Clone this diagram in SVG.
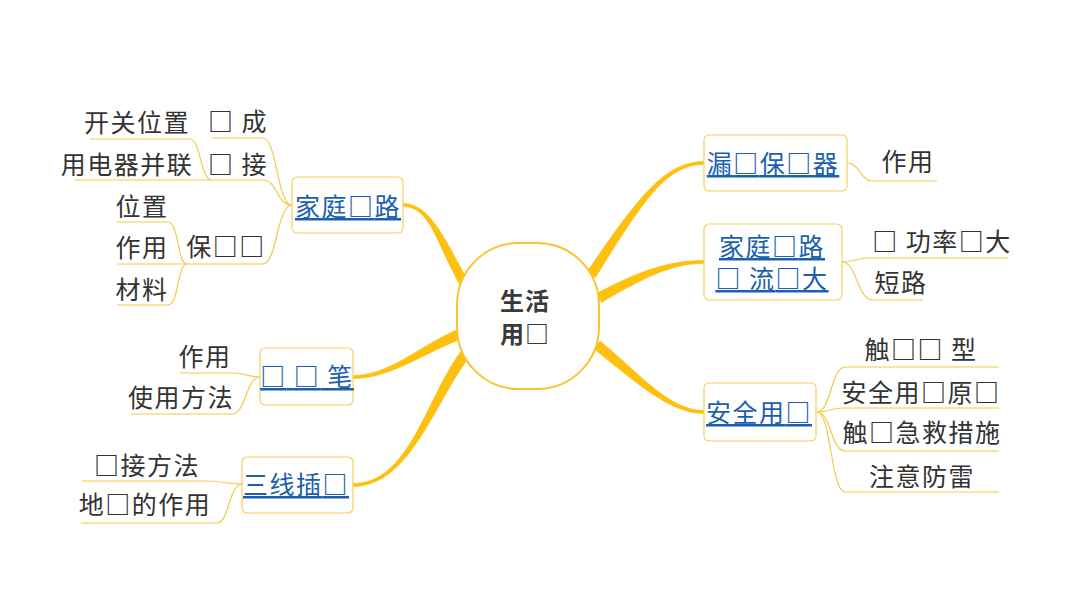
<svg xmlns="http://www.w3.org/2000/svg" width="1066" height="600" viewBox="0 0 1066 600">
<style>
.t{font-family:"Noto Sans CJK SC","Noto Sans",sans-serif;font-size:25px;letter-spacing:1.5px;fill:#333333;text-anchor:middle}
.b{fill:#1b5fae;text-decoration:underline}
.c{font-weight:bold;font-size:24px;fill:#3a3a3a;letter-spacing:1px}
.q{font-weight:bold}
.box{fill:#ffffff;stroke:#f7cf5c;stroke-width:1.2}
.main{fill:#fdc00f;stroke:#fdc00f;stroke-width:0.6}
.leaf{fill:none;stroke:#f3c94a;stroke-width:1.2}
</style>
<rect width="1066" height="600" fill="#ffffff"/>
<g id="connectors">
<path class="main" d="M403,203.5 C430,203.5 444,238 468,280.8 L460,285.2 C436,242 430,206.5 403,206.5 Z"/>
<path class="main" d="M353,375.5 C390,375.5 418,346 460.1,328.4 L463.9,337.7 C422,354 390,378.5 353,378.5 Z"/>
<path class="main" d="M353,483.5 C410,483.5 426,397 462,350 L470,356 C434,403 410,486.5 353,486.5 Z"/>
<path class="main" d="M704,161.5 C665,161.5 638,197 586.8,272.3 L595.2,277.8 C642,203 665,164.5 704,164.5 Z"/>
<path class="main" d="M704,260.5 C670,260.5 638,271 596.5,293.6 L601.5,302.4 C642,279 670,263.5 704,263.5 Z"/>
<path class="main" d="M704,410.5 C670,410.5 643,377 600.2,341.1 L593.9,348.9 C637,383 670,413.5 704,413.5 Z"/>
<path class="leaf" d="M292,205 C277,205 277,138 263,138 L212,138"/>
<path class="leaf" d="M292,205 C277,205 277,180 263,180 L212,180"/>
<path class="leaf" d="M292,205 C277,205 277,264 263,264 L187,264"/>
<path class="leaf" d="M212,180 C200,180 201,139 190,139 L90,139"/>
<path class="leaf" d="M212,180 L75,180"/>
<path class="leaf" d="M187,264 C177,264 179,222 168,222 L117,222"/>
<path class="leaf" d="M187,264 L117,264"/>
<path class="leaf" d="M187,264 C177,264 179,305 168,305 L117,305"/>
<path class="leaf" d="M260,377 C248,377 245,373 233,373 L180,373"/>
<path class="leaf" d="M260,377 C246,377 246,414 232,414 L131,414"/>
<path class="leaf" d="M242,484 C225,484 224,481 207,481 L82,481"/>
<path class="leaf" d="M242,484 C229,484 229,523 217,523 L81,523"/>
<path class="leaf" d="M847,163 C860,163 860,181 873,181 L937,181"/>
<path class="leaf" d="M842,262 C855,262 855,258 868,258 L1008,258"/>
<path class="leaf" d="M842,262 C857,262 857,300 873,300 L923,300"/>
<path class="leaf" d="M817,412 C831,412 831,367 845,367 L999,367"/>
<path class="leaf" d="M817,412 C830,412 830,408 843,408 L999,408"/>
<path class="leaf" d="M817,412 C831,412 831,451 845,451 L999,451"/>
<path class="leaf" d="M817,412 C831,412 831,492 845,492 L999,492"/>
</g>
<g id="center">
<rect x="457" y="243" width="142" height="146" rx="62" ry="62" fill="#ffffff" stroke="#f8c52c" stroke-width="2"/>
<text class="t c" x="525" y="310">生活</text>
<text class="t c" x="525" y="343">用<tspan class="q">□</tspan></text>
</g>
<g id="n-jiating-left">
<rect class="box" x="292" y="177" width="111" height="56" rx="5"/>
<text class="t b" x="348" y="216">家庭<tspan class="q">□</tspan>路</text>
</g>
<g id="n-zucheng"><text class="t" x="238" y="131"><tspan class="q">□</tspan> 成</text></g>
<g id="n-lianjie"><text class="t" x="238" y="174"><tspan class="q">□</tspan> 接</text></g>
<g id="n-kaiguan"><text class="t" x="137" y="132">开关位置</text></g>
<g id="n-yongdianqi"><text class="t" x="127" y="174">用电器并联</text></g>
<g id="n-baoxian"><text class="t" x="226" y="256">保<tspan class="q">□□</tspan></text></g>
<g id="n-weizhi"><text class="t" x="142" y="216">位置</text></g>
<g id="n-zuoyong1"><text class="t" x="142" y="257">作用</text></g>
<g id="n-cailiao"><text class="t" x="142" y="299">材料</text></g>
<g id="n-yandianbi">
<rect class="box" x="260" y="348" width="93" height="57" rx="5"/>
<text class="t b" x="307" y="386"><tspan class="q">□</tspan> <tspan class="q">□</tspan> 笔</text>
</g>
<g id="n-zuoyong2"><text class="t" x="205" y="366">作用</text></g>
<g id="n-shiyong"><text class="t" x="181" y="407">使用方法</text></g>
<g id="n-sanxian">
<rect class="box" x="242" y="457" width="111" height="56" rx="5"/>
<text class="t b" x="296" y="494">三线插<tspan class="q">□</tspan></text>
</g>
<g id="n-jiefa"><text class="t" x="147" y="475"><tspan class="q">□</tspan>接方法</text></g>
<g id="n-dixian"><text class="t" x="145" y="514">地<tspan class="q">□</tspan>的作用</text></g>
<g id="n-loudian">
<rect class="box" x="704" y="135" width="143" height="56" rx="5"/>
<text class="t b" x="773" y="173">漏<tspan class="q">□</tspan>保<tspan class="q">□</tspan>器</text>
</g>
<g id="n-zuoyong3"><text class="t" x="908" y="171">作用</text></g>
<g id="n-dianliu">
<rect class="box" x="704" y="224" width="138" height="76" rx="5"/>
<text class="t b" x="772" y="256">家庭<tspan class="q">□</tspan>路</text>
<text class="t b" x="772" y="288"><tspan class="q">□</tspan> 流<tspan class="q">□</tspan>大</text>
</g>
<g id="n-gonglv"><text class="t" x="942" y="251"><tspan class="q">□</tspan> 功率<tspan class="q">□</tspan>大</text></g>
<g id="n-duanlu"><text class="t" x="901" y="292">短路</text></g>
<g id="n-anquan">
<rect class="box" x="704" y="383" width="112" height="58" rx="5"/>
<text class="t b" x="759" y="422">安全用<tspan class="q">□</tspan></text>
</g>
<g id="n-leixing"><text class="t" x="921" y="359">触<tspan class="q">□□</tspan> 型</text></g>
<g id="n-yuanze"><text class="t" x="921" y="402">安全用<tspan class="q">□</tspan>原<tspan class="q">□</tspan></text></g>
<g id="n-jijiu"><text class="t" x="922" y="442">触<tspan class="q">□</tspan>急救措施</text></g>
<g id="n-fanglei"><text class="t" x="922" y="486">注意防雷</text></g>
</svg>
